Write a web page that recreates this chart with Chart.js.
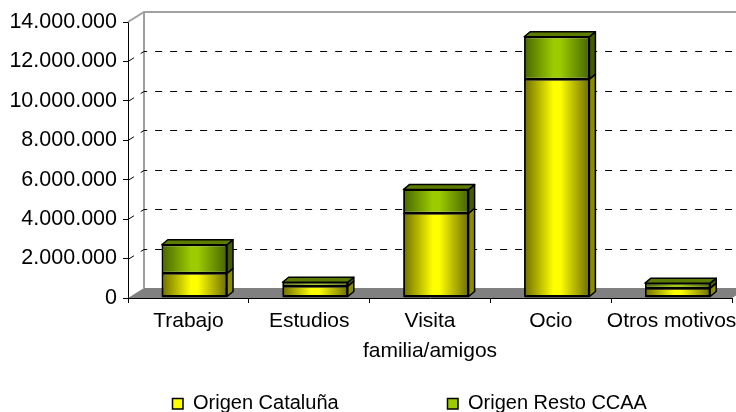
<!DOCTYPE html>
<html>
<head>
<meta charset="utf-8">
<script src="https://cdn.jsdelivr.net/npm/chart.js@4.4.1/dist/chart.umd.min.js"></script>
<style>
    html, body { margin: 0; padding: 0; background: #fff; }
</style>
</head>
<body>
<canvas id="grafico" width="736" height="412"></canvas>
<script>
"use strict";

// Datos
const categorias = ['Trabajo', 'Estudios', ['Visita', 'familia/amigos'], 'Ocio', 'Otros motivos'];
const origenCataluna = [1200000, 550000, 4250000, 11050000, 450000];
const origenRestoCCAA = [1450000, 200000, 1200000, 2150000, 250000];
const nombresSeries = ['Origen Cataluña', 'Origen Resto CCAA'];
const ticksEje = [0, 2000000, 4000000, 6000000, 8000000, 10000000, 12000000, 14000000];

// colores: claro (centro), oscuro (bordes), lateral, superior
const coloresAmarillo = ['#ffff00', '#6e6e00', '#8c8c00', '#b0b000'];
const coloresVerde = ['#9ccc00', '#476600', '#445c00', '#5c7c00'];

const ANCHO_BARRA = 0.54;
const PROF_X = 16, PROF_Y = -10;   // profundidad de las paredes
const BARRA_X = 6, BARRA_Y = -5;   // profundidad de cada barra
const DESPLAZ = 6;

Chart.defaults.font.family = '"Liberation Sans", Arial, sans-serif';
Chart.defaults.color = '#000';

// numero con puntos de miles
function formatoMiles(v) {
    return String(v).replace(/\B(?=(\d{3})+(?!\d))/g, '.');
}

// degradado horizontal para la cara frontal de la barra
function degradado(context, colores) {
    const chart = context.chart;
    const xs = chart.scales.x;
    if (!xs || !chart.chartArea || context.dataIndex === undefined) return colores[0];
    const cx = xs.getPixelForValue(context.dataIndex);
    const mitad = xs.width / categorias.length * ANCHO_BARRA / 2;
    const g = chart.ctx.createLinearGradient(cx - mitad, 0, cx + mitad, 0);
    g.addColorStop(0, colores[1]);
    g.addColorStop(0.45, colores[0]);
    g.addColorStop(0.55, colores[0]);
    g.addColorStop(1, colores[1]);
    return g;
}

// paredes, suelo y efecto 3D de las barras
const efecto3D = {
    id: 'efecto3D',
    beforeDatasetsDraw(chart) {
        const { ctx, chartArea: a, scales: { y } } = chart;
        ctx.save();
        // suelo gris
        ctx.fillStyle = '#808080';
        ctx.beginPath();
        ctx.moveTo(a.left, a.bottom);
        ctx.lineTo(a.left + PROF_X, a.bottom + PROF_Y);
        ctx.lineTo(a.right + PROF_X, a.bottom + PROF_Y);
        ctx.lineTo(a.right, a.bottom);
        ctx.closePath();
        ctx.fill();
        // pared lateral y borde superior
        ctx.strokeStyle = '#a0a0a0';
        ctx.lineWidth = 2;
        ctx.beginPath();
        ctx.moveTo(a.left, a.top);
        ctx.lineTo(a.left + PROF_X, a.top + PROF_Y);
        ctx.lineTo(a.right + PROF_X, a.top + PROF_Y);
        ctx.moveTo(a.left + PROF_X, a.top + PROF_Y);
        ctx.lineTo(a.left + PROF_X, a.bottom + PROF_Y);
        ctx.stroke();
        // lineas de division discontinuas
        ctx.strokeStyle = '#000';
        ctx.lineWidth = 1;
        ctx.setLineDash([7, 8]);
        y.ticks.forEach(t => {
            if (t.value === y.min || t.value === y.max) return;
            const py = Math.round(y.getPixelForValue(t.value)) + 0.5;
            ctx.beginPath();
            ctx.moveTo(a.left, py);
            ctx.lineTo(a.left + PROF_X, py + PROF_Y);
            ctx.lineTo(a.right + PROF_X, py + PROF_Y);
            ctx.stroke();
        });
        ctx.restore();
        // las barras van un poco a la derecha
        ctx.save();
        ctx.translate(DESPLAZ, -1);
    },
    afterDatasetsDraw(chart) {
        const ctx = chart.ctx;
        const ultimo = chart.data.datasets.length - 1;
        const colores = [coloresAmarillo, coloresVerde];
        ctx.lineWidth = 1.5;
        ctx.strokeStyle = '#000';
        ctx.lineJoin = 'round';
        chart.data.datasets.forEach((ds, i) => {
            chart.getDatasetMeta(i).data.forEach(bar => {
                const { x, y, base, width } = bar.getProps(['x', 'y', 'base', 'width'], true);
                const l = x - width / 2, r = x + width / 2;
                // contorno frontal
                ctx.strokeRect(l + 0.75, y, width - 1.5, base - y);
                // cara lateral
                ctx.fillStyle = colores[i][2];
                ctx.beginPath();
                ctx.moveTo(r, y);
                ctx.lineTo(r + BARRA_X, y + BARRA_Y);
                ctx.lineTo(r + BARRA_X, base + BARRA_Y);
                ctx.lineTo(r, base);
                ctx.closePath();
                ctx.fill();
                ctx.stroke();
                // cara superior solo en la serie de arriba
                if (i === ultimo) {
                    ctx.fillStyle = colores[i][3];
                    ctx.beginPath();
                    ctx.moveTo(l, y);
                    ctx.lineTo(l + BARRA_X, y + BARRA_Y);
                    ctx.lineTo(r + BARRA_X, y + BARRA_Y);
                    ctx.lineTo(r, y);
                    ctx.closePath();
                    ctx.fill();
                    ctx.stroke();
                }
            });
        });
        ctx.restore();
    }
};

// leyenda abajo con el espaciado del original
const LEYENDA_X = [172, 447];
const LEYENDA_Y = 398;
const leyendaAbajo = {
    id: 'leyendaAbajo',
    afterDraw(chart) {
        const ctx = chart.ctx;
        const colores = [coloresAmarillo, coloresVerde];
        ctx.save();
        ctx.font = '20px "Liberation Sans", Arial, sans-serif';
        ctx.textBaseline = 'middle';
        chart.data.datasets.forEach((ds, i) => {
            const x = LEYENDA_X[i];
            ctx.fillStyle = colores[i][0];
            ctx.fillRect(x, LEYENDA_Y, 11, 11);
            ctx.strokeStyle = '#000';
            ctx.lineWidth = 1.5;
            ctx.strokeRect(x + 0.5, LEYENDA_Y + 0.5, 10.5, 10.5);
            ctx.fillStyle = '#000';
            ctx.fillText(ds.label, x + 21, LEYENDA_Y + 5);
        });
        ctx.restore();
    }
};

new Chart(document.getElementById('grafico'), {
    type: 'bar',
    data: {
        labels: categorias,
        datasets: [{
            label: nombresSeries[0],
            data: origenCataluna,
            backgroundColor: c => degradado(c, coloresAmarillo),
            borderColor: '#000',
            borderWidth: 1.5,
            borderSkipped: false,
            barPercentage: 1,
            categoryPercentage: ANCHO_BARRA
        }, {
            label: nombresSeries[1],
            data: origenRestoCCAA,
            backgroundColor: c => degradado(c, coloresVerde),
            borderColor: '#000',
            borderWidth: 1.5,
            borderSkipped: false,
            barPercentage: 1,
            categoryPercentage: ANCHO_BARRA
        }]
    },
    options: {
        responsive: false,
        animation: false,
        events: [],
        layout: { padding: { top: 22, right: 4, left: 0, bottom: 0 } },
        datasets: { bar: { clip: false } },
        plugins: {
            legend: { display: false },
            tooltip: { enabled: false }
        },
        scales: {
            x: {
                stacked: true,
                border: { color: '#000', width: 1 },
                grid: { drawOnChartArea: false, drawTicks: true, tickLength: 5, color: '#000', offset: true },
                ticks: {
                    font: { size: 21, lineHeight: 1.4 },
                    color: '#000',
                    maxRotation: 0,
                    autoSkip: false,
                    padding: 4
                },
                afterFit: s => { s.height = 114; s.paddingRight = 4; s.paddingLeft = 0; }
            },
            y: {
                stacked: true,
                min: 0,
                max: 14000000,
                border: { color: '#000', width: 1 },
                grid: { drawOnChartArea: false, drawTicks: true, tickLength: 5, color: '#000' },
                afterBuildTicks: s => { s.ticks = ticksEje.map(v => ({ value: v })); },
                ticks: {
                    font: { size: 21.5 },
                    color: '#000',
                    padding: 6,
                    callback: v => formatoMiles(v)
                },
                afterFit: s => { s.width = 128; }
            }
        }
    },
    plugins: [efecto3D, leyendaAbajo]
});
</script>
</body>
</html>
